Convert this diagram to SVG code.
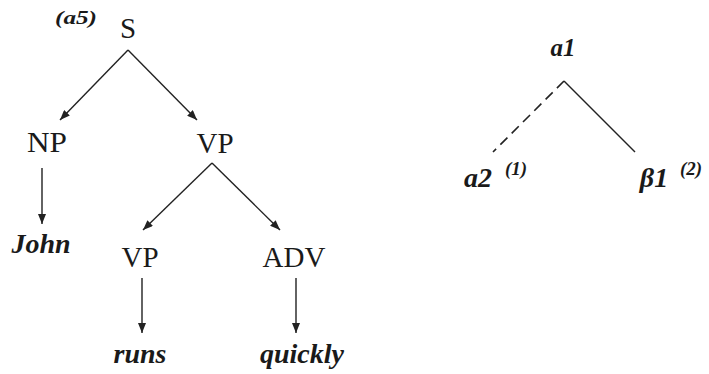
<svg xmlns="http://www.w3.org/2000/svg" width="709" height="374" viewBox="0 0 709 374">
  <defs>
    <marker id="head" viewBox="0 0 10 8" refX="10" refY="4" markerWidth="10" markerHeight="8" markerUnits="userSpaceOnUse" orient="auto">
      <path d="M0,0 L10,4 L0,8 Z" fill="#222"/>
    </marker>
  </defs>

  <g id="connectors" stroke="#222" stroke-width="1.4" fill="none">
    <line x1="128" y1="50" x2="60" y2="120" marker-end="url(#head)"/>
    <line x1="128" y1="50" x2="197" y2="120" marker-end="url(#head)"/>
    <line x1="42" y1="168" x2="42" y2="224" marker-end="url(#head)"/>
    <line x1="212" y1="163" x2="143" y2="230" marker-end="url(#head)"/>
    <line x1="212" y1="163" x2="280" y2="230" marker-end="url(#head)"/>
    <line x1="142" y1="278" x2="142" y2="333" marker-end="url(#head)"/>
    <line x1="296" y1="278" x2="296" y2="333" marker-end="url(#head)"/>
    <line x1="564" y1="81" x2="493" y2="152" stroke-dasharray="10 6" stroke-width="1.6"/>
    <line x1="564" y1="81" x2="635" y2="152"/>
  </g>

  <!-- categories: upright serif -->
  <g id="node-S"><text x="128" y="38" style="font-family:'Liberation Serif',serif;font-size:29px;fill:#1a1a1a;text-anchor:middle">S</text></g>
  <g id="node-NP"><text x="47" y="152" textLength="40" lengthAdjust="spacingAndGlyphs" style="font-family:'Liberation Serif',serif;font-size:29px;fill:#1a1a1a;text-anchor:middle">NP</text></g>
  <g id="node-VP"><text x="215" y="153" style="font-family:'Liberation Serif',serif;font-size:29px;fill:#1a1a1a;text-anchor:middle">VP</text></g>
  <g id="node-VP2"><text x="140" y="267" style="font-family:'Liberation Serif',serif;font-size:29px;fill:#1a1a1a;text-anchor:middle">VP</text></g>
  <g id="node-ADV"><text x="294" y="267" style="font-family:'Liberation Serif',serif;font-size:29px;fill:#1a1a1a;text-anchor:middle">ADV</text></g>

  <!-- words and tree names: bold italic -->
  <g id="node-John"><text x="41" y="253" style="font-family:'Liberation Serif',serif;font-size:28px;font-style:italic;font-weight:bold;fill:#1a1a1a;text-anchor:middle">John</text></g>
  <g id="node-runs"><text x="140" y="363" style="font-family:'Liberation Serif',serif;font-size:28px;font-style:italic;font-weight:bold;fill:#1a1a1a;text-anchor:middle">runs</text></g>
  <g id="node-quickly"><text x="302" y="363" style="font-family:'Liberation Serif',serif;font-size:28px;font-style:italic;font-weight:bold;fill:#1a1a1a;text-anchor:middle">quickly</text></g>
  <g id="node-a1"><text x="563" y="56" style="font-family:'Liberation Serif',serif;font-size:25px;font-style:italic;font-weight:bold;fill:#1a1a1a;text-anchor:middle">a1</text></g>
  <g id="node-a2"><text x="478" y="187" style="font-family:'Liberation Serif',serif;font-size:28px;font-style:italic;font-weight:bold;fill:#1a1a1a;text-anchor:middle">a2</text></g>
  <g id="node-b1"><text x="654" y="187" style="font-family:'Liberation Serif',serif;font-size:28px;font-style:italic;font-weight:bold;fill:#1a1a1a;text-anchor:middle">β1</text></g>

  <!-- addresses -->
  <text x="55" y="24" textLength="42" lengthAdjust="spacingAndGlyphs" style="font-family:'Liberation Serif',serif;font-size:19px;font-style:italic;font-weight:bold;fill:#1a1a1a">(a5)</text>
  <text x="505" y="175" style="font-family:'Liberation Serif',serif;font-size:19px;font-style:italic;font-weight:bold;fill:#1a1a1a">(1)</text>
  <text x="680" y="175" style="font-family:'Liberation Serif',serif;font-size:19px;font-style:italic;font-weight:bold;fill:#1a1a1a">(2)</text>
</svg>
